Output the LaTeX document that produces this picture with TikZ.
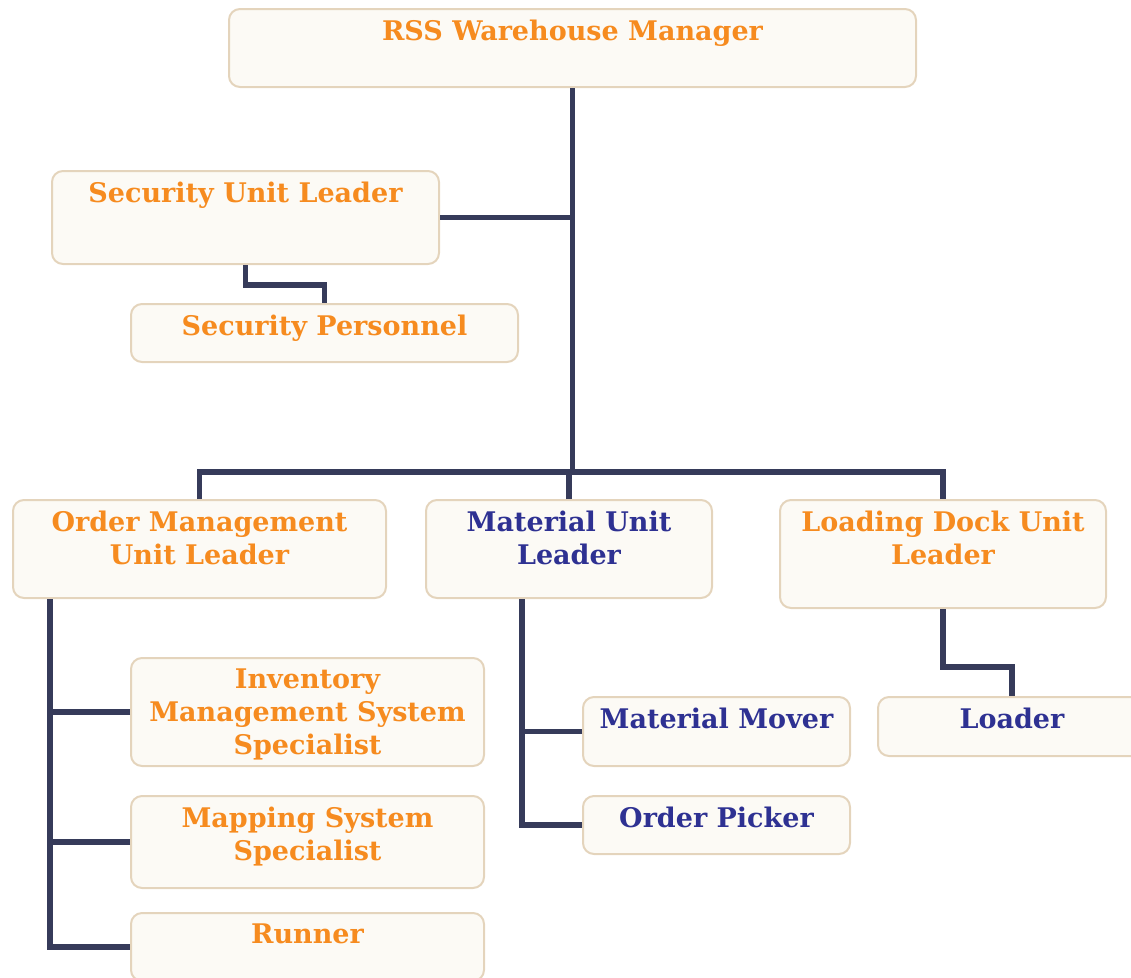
\documentclass[tikz,border=0pt]{standalone}
\usepackage{fontspec}
\setmainfont{DejaVu Serif}
\usetikzlibrary{positioning,calc}

\definecolor{cardfill}{HTML}{FCFAF5}
\definecolor{cardline}{HTML}{E4D4BC}
\definecolor{linkcol}{HTML}{363B5A}
\definecolor{orangetxt}{HTML}{F68B1F}
\definecolor{bluetxt}{HTML}{2E3192}

\tikzset{
	card/.style={draw=cardline, fill=cardfill, line width=2pt, rounded corners=11pt,
		anchor=north west, inner sep=0pt},
	title/.style={anchor=north, yshift=-12pt, inner sep=0pt, align=center,
		font=\fontsize{27}{33}\selectfont\bfseries},
	otitle/.style={title, text=orangetxt},
	btitle/.style={title, text=bluetxt},
	link/.style={draw=linkcol, line width=5.5pt}
}

\begin{document}
\begin{tikzpicture}[x=1pt,y=-1pt]
	\useasboundingbox (0,0) rectangle (1131,977);

	% top row
	\node[card, minimum width=687, minimum height=78, label={[otitle]north:RSS Warehouse Manager}] (mgr) at (228,8) {};
	\node[card, minimum width=387, minimum height=93, label={[otitle]north:Security Unit Leader}] (sul) at (51,170) {};
	\node[card, minimum width=387, minimum height=58, label={[otitle]north:Security Personnel}] (sp) at (130,303) {};

	% unit leaders
	\node[card, minimum width=373, minimum height=98, label={[otitle]north:Order Management\\Unit Leader}] (oml) at (12,499) {};
	\node[card, minimum width=286, minimum height=98, label={[btitle]north:Material Unit\\Leader}] (mul) at (425,499) {};
	\node[card, minimum width=326, minimum height=108, label={[otitle]north:Loading Dock Unit\\Leader}] (ldl) at (779,499) {};

	% order management staff
	\node[card, minimum width=353, minimum height=108, label={[otitle]north:Inventory\\Management System\\Specialist}] (ims) at (130,657) {};
	\node[card, minimum width=353, minimum height=92, label={[otitle]north:Mapping System\\Specialist}] (mss) at (130,795) {};
	\node[card, minimum width=353, minimum height=68, label={[otitle]north:Runner}] (run) at (130,912) {};

	% material and loading staff
	\node[card, minimum width=267, minimum height=69, label={[btitle]north:Material Mover}] (mmv) at (582,696) {};
	\node[card, minimum width=267, minimum height=58, label={[btitle]north:Order Picker}] (opk) at (582,795) {};
	\node[card, minimum width=268, minimum height=59, label={[btitle]north:Loader}] (ldr) at (877,696) {};

	\path (mgr.south) ++(0,384) coordinate (bus);

	% connectors
	\draw[link] (mgr.south) -- (bus);
	\draw[link] (sul.east) -- (sul.east -| bus);
	\draw[link] (sul.south) -- ++(0,20) -| (sp.north);
	\draw[link] (oml.north) -- (oml.north |- bus) -- (ldl.north |- bus) -- (ldl.north);
	\draw[link] (mul.north) -- (mul.north |- bus);

	\draw[link] ([xshift=38]oml.south west) coordinate (omstem) |- (run.west);
	\foreach \n in {ims,mss}
		\draw[link] (\n.west) -- (\n.west -| omstem);

	\draw[link] ([xshift=97]mul.south west) coordinate (mustem) |- (opk.west);
	\draw[link] (mmv.west) -- (mmv.west -| mustem);

	\draw[link] (ldl.south) -- ++(0,58) -| (ldr.north);
\end{tikzpicture}
\end{document}
